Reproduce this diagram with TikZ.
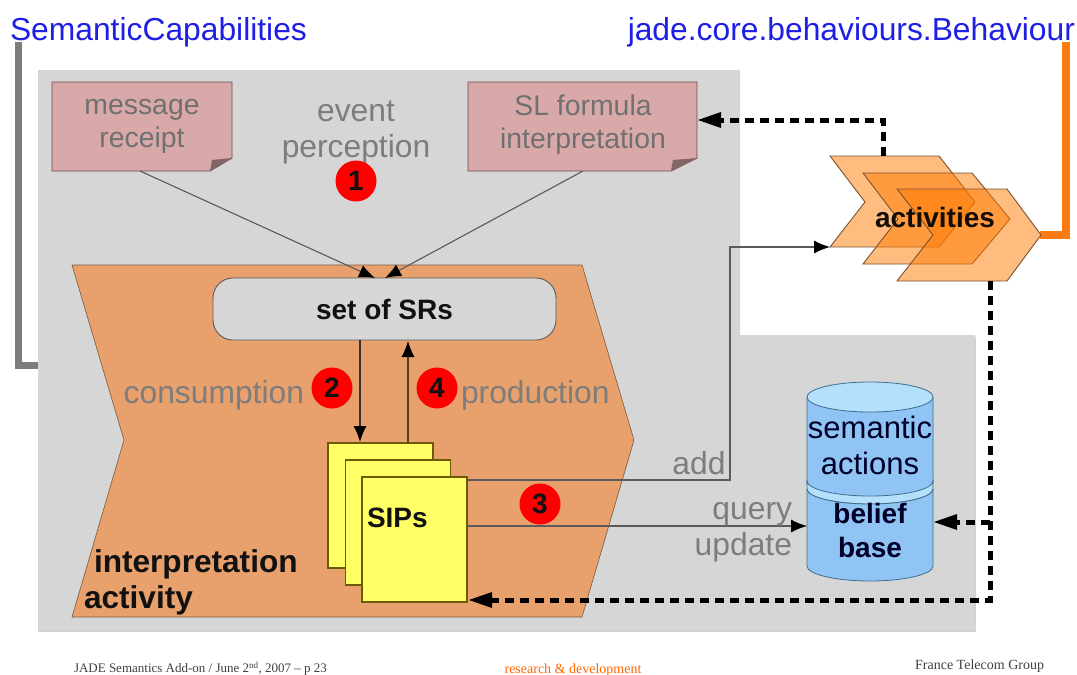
\documentclass[tikz,border=0pt]{standalone}
\usepackage{fontspec}
\setmainfont{Liberation Sans}
\newfontfamily\footfont{Liberation Serif}
\usetikzlibrary{arrows.meta}
\definecolor{panel}{HTML}{D6D6D6}
\definecolor{notefill}{HTML}{D9A9A9}
\definecolor{noteedge}{HTML}{6E4A4A}
\definecolor{actfill}{HTML}{E8A06C}
\definecolor{actedge}{HTML}{7A5A3C}
\definecolor{chevfill}{HTML}{FF7A00}
\definecolor{chevedge}{HTML}{7A5230}
\definecolor{brightorange}{HTML}{F97B12}
\definecolor{titleblue}{HTML}{1E1EE6}
\definecolor{labelgray}{HTML}{7D7D7D}
\definecolor{sipfill}{HTML}{FFFF66}
\definecolor{sipedge}{HTML}{6E5A00}
\definecolor{cylfill}{HTML}{8FC4F5}
\definecolor{cyltop}{HTML}{B5E0FC}
\definecolor{cyledge}{HTML}{3E6E8E}
\definecolor{srfill}{HTML}{D6D6D6}
\definecolor{inktext}{HTML}{111111}
\definecolor{thinline}{HTML}{5A5A5A}
\tikzset{
  x=1pt,y=-1pt,
  every node/.style={inner sep=0pt,outer sep=0pt,align=center},
  title/.style={text=titleblue,font=\fontsize{31.8}{34}\selectfont},
  graylabel/.style={text=labelgray,font=\fontsize{31.8}{36}\selectfont},
  notelabel/.style={text=labelgray!90!black,font=\fontsize{28.4}{33}\selectfont},
  boldlabel/.style={text=inktext,font=\bfseries\fontsize{28}{34}\selectfont},
  noteshape/.style={fill=notefill,draw=noteedge,line width=.9pt},
  chevron/.style={fill=chevfill,fill opacity=.5,draw=chevedge,line width=.9pt},
  sipcard/.style={draw=sipedge,fill=sipfill,line width=1.3pt,minimum width=105pt,minimum height=125pt},
  numdot/.style={circle,fill=red,minimum size=41pt,text=inktext,font=\bfseries\fontsize{28}{28}\selectfont},
  thin link/.style={draw=thinline,line width=1.1pt},
  tip/.style={-{Latex[length=16pt,width=13pt,color=black]}},
  dashlink/.style={draw=black,line width=5pt,dash pattern=on 9pt off 6pt},
  footlabel/.style={font=\footfont\fontsize{13}{15}\selectfont,text=black!75},
}
\newcommand{\dashtip}[2]{\fill[black] (#1,#2) -- ++(23,-8) -- ++(0,16) -- cycle;}
\begin{document}
\begin{tikzpicture}
\useasboundingbox (0,0) rectangle (1077,675);
\fill[white] (0,0) rectangle (1077,675);
% panel
\fill[black!18] (38,632) -- (976,632) -- (976,337) -- (38,337) -- cycle;
\fill[panel] (38,70) -- (740,70) -- (740,335) -- (975,335) -- (975,630) -- (38,630) -- cycle;
% side rails
\coordinate (capleft) at (18,42);
\coordinate (capjoin) at (38,365);
\draw[labelgray,line width=7pt] (capjoin) -- (18,365) -- (capleft);
\coordinate (behtop) at (1066,42);
\coordinate (behjoin) at (1040,235);
\draw[brightorange,line width=8pt] (behjoin) -- (1066,235) -- (behtop);
% titles
\node[title,anchor=west] (semcap) at (10,32) {SemanticCapabilities};
\node[title,anchor=east] (jade) at (1075,32) {jade.core.behaviours.Behaviour};
% activity
\fill[actfill] (72,265) -- (582,265) -- (634,440) -- (582,617) -- (72,617) -- (124,440) -- cycle;
\draw[actedge,line width=.6pt] (72,265) -- (582,265) -- (634,440) -- (582,617) -- (72,617) -- (124,440) -- cycle;
% notes
\coordinate (msgout) at (140,171);
\coordinate (slout) at (583,171);
\draw[noteshape] (52,82) -- (232,82) -- (232,158) -- (210,171) -- (52,171) -- cycle;
\fill[notefill!60!black] (232,158) -- (212,160) -- (210,171) -- cycle;
\draw[noteshape] (468,82) -- (697,82) -- (697,158) -- (671,171) -- (468,171) -- cycle;
\fill[notefill!60!black] (697,158) -- (673,160) -- (671,171) -- cycle;
\node[notelabel] (msg) at (142,126) {message\\receipt};
\node[notelabel] (sl) at (583,125) {SL formula\\interpretation};
\node[graylabel] (event) at (356,132.5) {event\\perception};
% set of SRs
\node[draw=thinline,fill=srfill,line width=.9pt,rounded corners=20pt,minimum width=343pt,minimum height=62pt,font=\bfseries\fontsize{28}{28}\selectfont,text=inktext] (srs) at (384.5,309) {set of SRs};
\coordinate (srin1) at (375,278);
\coordinate (srin2) at (385,278);
\draw[thin link,tip] (msgout) -- (srin1);
\draw[thin link,tip] (slout) -- (srin2);
% SIPs
\node[sipcard] (sipa) at (380.5,505.5) {};
\node[sipcard] (sipb) at (398,522.5) {};
\node[sipcard] (sipc) at (414.5,539.5) {};
\node[text=inktext,font=\bfseries\fontsize{28}{28}\selectfont,anchor=west] (sips) at (367,518) {SIPs};
\coordinate (consA) at (360,340);
\coordinate (consB) at (360,442);
\coordinate (prodA) at (408,443);
\coordinate (prodB) at (408,341);
\draw[thin link,draw=black!80,tip] (consA) -- (consB);
\draw[thin link,draw=actedge!70!black,tip] (prodA) -- (prodB);
% labels in activity
\node[graylabel,anchor=east] (consumption) at (304,395) {consumption};
\node[graylabel,anchor=west] (production) at (461,395) {production};
\node[boldlabel,font=\bfseries\fontsize{31.6}{36}\selectfont,anchor=north west,align=left] (interp) at (84,550) {\hspace{10pt}interpretation\\activity};
% cylinder
\fill[cylfill] (807,397) -- (807,483) arc[start angle=180,end angle=360,x radius=63pt,y radius=15pt] -- (933,397) -- cycle;
\draw[cyledge,line width=.8pt] (807,397) -- (807,483) arc[start angle=180,end angle=360,x radius=63pt,y radius=15pt] -- (933,397);
\draw[fill=cyltop,draw=cyledge,line width=.8pt] (870,397) ellipse[x radius=63pt,y radius=15pt];
\draw[fill=cyltop,draw=cyledge,line width=.8pt] (807,481) arc[start angle=180,end angle=360,x radius=63pt,y radius=15pt] -- (933,489) arc[start angle=360,end angle=180,x radius=63pt,y radius=15pt] -- cycle;
\fill[cylfill] (807,489) arc[start angle=180,end angle=360,x radius=63pt,y radius=15pt] -- (933,566) arc[start angle=360,end angle=180,x radius=63pt,y radius=15pt] -- cycle;
\draw[cyledge,line width=.8pt] (807,489) -- (807,566) arc[start angle=180,end angle=360,x radius=63pt,y radius=15pt] -- (933,489);
\draw[cyledge,line width=.8pt] (807,489) arc[start angle=180,end angle=360,x radius=63pt,y radius=15pt];
\node[text=black!85!blue,font=\fontsize{31}{36}\selectfont] (semact) at (870,445) {semantic\\actions};
\node[boldlabel,text=black!85!blue] (belief) at (870,530) {belief\\base};
\coordinate (cylin) at (807,526);
% chevrons
\coordinate (cha) at (830,247);
\draw[chevron] (830,156) -- (939,156) -- (975,202) -- (939,247) -- (830,247) -- (865,202) -- cycle;
\draw[chevron] (863,173) -- (972,173) -- (1010,219) -- (972,264) -- (863,264) -- (898,219) -- cycle;
\draw[chevron] (897,189) -- (1007,189) -- (1041,235) -- (1007,281) -- (897,281) -- (933,235) -- cycle;
\node[text=black!90!brown,font=\bfseries\fontsize{28}{28}\selectfont] (activities) at (935,217) {activities};
% links from SIPs
\coordinate (sipadd) at (468,480);
\coordinate (sipq) at (468,526);
\draw[thin link,tip] (sipadd) -- (730,480) -- (730,247) -- (cha);
\draw[thin link,tip] (sipq) -- (cylin);
\node[graylabel] (add) at (699,463) {add};
\node[graylabel,anchor=east,align=right] (qu) at (792,532) {query\\update};
% dashed links
\coordinate (chtop) at (883,156);
\coordinate (slin) at (719,120);
\coordinate (chbot) at (990,281);
\coordinate (sipin) at (490,600);
\coordinate (cylin2) at (955,522);
\draw[dashlink] (chtop) -- (883,120) -- (slin);
\dashtip{698}{120}
\draw[dashlink] (chbot) -- (990,600) -- (sipin);
\dashtip{469}{600}
\draw[dashlink] (990,522) -- (cylin2);
\dashtip{934}{522}
% number dots
\node[numdot] (n1) at (356,181) {1};
\node[numdot] (n2) at (332,388) {2};
\node[numdot] (n3) at (540,504) {3};
\node[numdot] (n4) at (437,388) {4};
% footer
\node[footlabel,anchor=west] (f1) at (74,669) {JADE Semantics Add-on / June 2\textsuperscript{nd}, 2007 – p 23};
\node[footlabel,font=\footfont\fontsize{14}{15}\selectfont,text=orange!80!red] (f2) at (573,670) {research \& development};
\node[footlabel,font=\footfont\fontsize{14}{15}\selectfont,anchor=east] (f3) at (1044,666) {France Telecom Group};
\end{tikzpicture}
\end{document}
